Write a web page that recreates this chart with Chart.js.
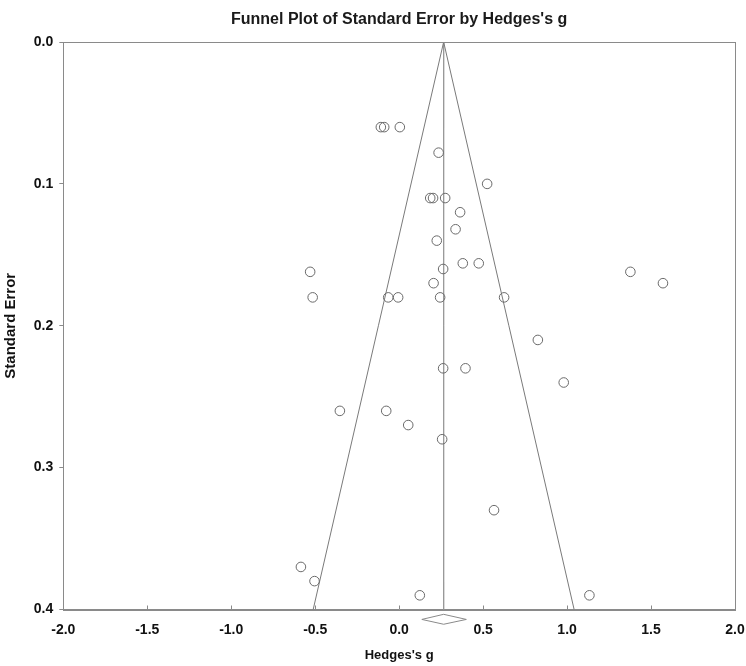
<!DOCTYPE html>
<html>
<head>
<meta charset="utf-8">
<script src="https://cdn.jsdelivr.net/npm/chart.js@4"></script>
<style>
  html, body { margin: 0; padding: 0; background: #fff; }
  #wrap { width: 746px; height: 666px; }
</style>
</head>
<body>
<div id="wrap"><canvas id="c" width="746" height="666"></canvas></div>
<script>
// ---- data ----
const hedgesG = [-0.109, -0.089, 0.004, 0.235, 0.524, 0.185, 0.202, 0.274, 0.363, 0.336, 0.224, -0.530,
  0.379, 0.474, 0.262, 0.205, -0.515, -0.065, -0.006, 0.244, 0.625, 1.377, 1.571, 0.826, 0.262, 0.395,
  0.980, -0.353, -0.077, 0.054, 0.256, 0.565, -0.585, -0.504, 0.123, 1.133];
const standardError = [0.06, 0.06, 0.06, 0.078, 0.10, 0.11, 0.11, 0.11, 0.12, 0.132, 0.14, 0.162,
  0.156, 0.156, 0.16, 0.17, 0.18, 0.18, 0.18, 0.18, 0.18, 0.162, 0.17, 0.21, 0.23, 0.23,
  0.24, 0.26, 0.26, 0.27, 0.28, 0.33, 0.37, 0.38, 0.39, 0.39];
const funnelG = [-0.512, 0.265, 1.042];
const funnelSE = [0.4, 0.0, 0.4];
const meanG = [0.265, 0.265];
const meanSE = [0.0, 0.4];
const diamondG = [0.135, 0.265, 0.400, 0.265, 0.135];
const diamondSE = [0.407, 0.4034, 0.407, 0.4104, 0.407];
const xTickValues = [-2.0, -1.5, -1.0, -0.5, 0.0, 0.5, 1.0, 1.5, 2.0];
const yTickValues = [0.0, 0.1, 0.2, 0.3, 0.4];

const zip = (xs, ys) => xs.map((x, i) => ({ x: x, y: ys[i] }));
const FONT = '"Liberation Sans", Arial, sans-serif';

const framePlugin = {
  id: 'frame',
  afterDatasetsDraw(chart) {
    const { ctx, chartArea: a, scales } = chart;
    ctx.save();
    ctx.strokeStyle = '#8a8a8a';
    ctx.lineWidth = 1;
    ctx.strokeRect(Math.round(a.left) + 0.5, Math.round(a.top) + 0.5,
      Math.round(a.right - a.left), Math.round(a.bottom - a.top));
    // inward tick marks on x axis
    ctx.beginPath();
    scales.x.ticks.forEach(t => {
      const px = Math.round(scales.x.getPixelForValue(t.value)) + 0.5;
      ctx.moveTo(px, a.bottom);
      ctx.lineTo(px, a.bottom - 4);
    });
    ctx.stroke();
    ctx.restore();
  }
};

new Chart(document.getElementById('c'), {
  type: 'scatter',
  data: {
    datasets: [
      {
        label: 'Studies',
        data: zip(hedgesG, standardError),
        pointStyle: 'circle',
        pointRadius: 4.8,
        pointBackgroundColor: 'rgba(0,0,0,0)',
        pointBorderColor: '#6a6a6a',
        pointBorderWidth: 1,
        order: 1
      },
      {
        label: 'Funnel',
        data: zip(funnelG, funnelSE),
        showLine: true,
        borderColor: '#7a7a7a',
        borderWidth: 1,
        pointRadius: 0,
        fill: false,
        order: 2
      },
      {
        label: 'Mean',
        data: zip(meanG, meanSE),
        showLine: true,
        borderColor: '#9a9a9a',
        borderWidth: 1,
        pointRadius: 0,
        fill: false,
        order: 3
      },
      {
        label: 'Combined',
        data: zip(diamondG, diamondSE),
        showLine: true,
        borderColor: '#8a8a8a',
        borderWidth: 1,
        pointRadius: 0,
        fill: false,
        clip: false,
        order: 4
      }
    ]
  },
  options: {
    responsive: false,
    animation: false,
    layout: { padding: { left: 0, right: 0, top: 0, bottom: 0 } },
    plugins: {
      legend: { display: false },
      tooltip: { enabled: false },
      title: {
        display: true,
        text: "Funnel Plot of Standard Error by Hedges's g",
        fullSize: false,
        color: '#1a1a1a',
        font: { family: FONT, size: 16, weight: 'bold' },
        padding: { top: 10, bottom: 12.8 }
      }
    },
    scales: {
      x: {
        type: 'linear',
        min: -2,
        max: 2,
        afterBuildTicks: s => { s.ticks = xTickValues.map(v => ({ value: v })); },
        ticks: {
          color: '#111',
          font: { family: FONT, size: 14, weight: 'bold' },
          padding: 12,
          callback: v => Number(v).toFixed(1)
        },
        grid: { display: false, drawTicks: false },
        border: { display: true, color: '#8a8a8a' },
        title: {
          display: true,
          text: "Hedges's g",
          color: '#111',
          font: { family: FONT, size: 13, weight: 'bold' },
          padding: { top: 4, bottom: 3 }
        },
        afterFit: s => { s.height = 56.5; s.paddingRight = 11; s.paddingLeft = 0; }
      },
      y: {
        type: 'linear',
        reverse: true,
        min: 0,
        max: 0.4,
        afterBuildTicks: s => { s.ticks = yTickValues.map(v => ({ value: v })); },
        ticks: {
          color: '#111',
          font: { family: FONT, size: 14, weight: 'bold' },
          padding: 6,
          callback: v => Number(v).toFixed(1)
        },
        grid: { display: true, drawOnChartArea: false, drawTicks: true, tickLength: 4, color: '#8a8a8a' },
        border: { display: true, color: '#8a8a8a' },
        title: {
          display: true,
          text: 'Standard Error',
          color: '#111',
          font: { family: FONT, size: 15, weight: 'bold' },
          padding: { top: 2, bottom: 0 }
        },
        afterFit: s => { s.width = 63.3; s.paddingTop = 0; s.paddingBottom = 0; }
      }
    }
  },
  plugins: [framePlugin]
});
</script>
</body>
</html>
